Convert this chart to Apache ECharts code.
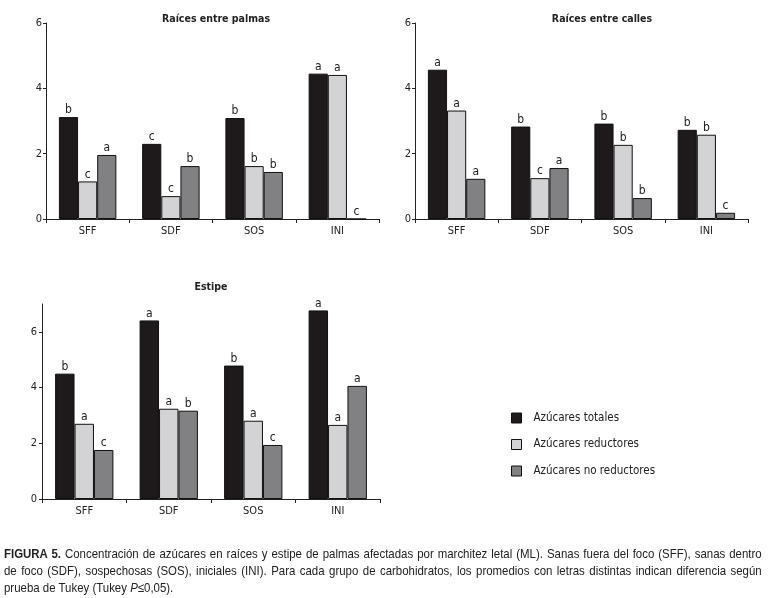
<!DOCTYPE html>
<html>
<head>
<meta charset="utf-8">
<script src="https://cdn.jsdelivr.net/npm/echarts@6/dist/echarts.min.js"></script>
<style>
  html, body { margin: 0; padding: 0; background: #fff; }
  #chart { position: absolute; left: 0; top: 0; width: 771px; height: 598px; }
  .cap { position: absolute; left: 4px; width: 861px; transform: scaleX(0.88); transform-origin: 0 0;
         font-family: 'Liberation Sans', Arial, sans-serif; font-size: 13px; line-height: 15px; color: #222; white-space: nowrap; }
  .just { text-align: justify; text-align-last: justify; white-space: normal; }
</style>
</head>
<body>
<div id="chart"></div>
<div class="cap just" style="top:546px;"><b>FIGURA 5.</b> Concentración de azúcares en raíces y estipe de palmas afectadas por marchitez letal (ML). Sanas fuera del foco (SFF), sanas dentro</div>
<div class="cap just" style="top:563px;">de foco (SDF), sospechosas (SOS), iniciales (INI). Para cada grupo de carbohidratos, los promedios con letras distintas indican diferencia según</div>
<div class="cap" style="top:580px;">prueba de Tukey (Tukey <i>P</i>≤0,05).</div>
<script>
const categories = ['SFF', 'SDF', 'SOS', 'INI'];
const seriesNames = ['Azúcares totales', 'Azúcares reductores', 'Azúcares no reductores'];
const panelTitles = ['Raíces entre palmas', 'Raíces entre calles', 'Estipe'];

const palmasTotales = [3.12, 2.30, 3.09, 4.45];
const palmasReductores = [1.15, 0.70, 1.62, 4.41];
const palmasNoReductores = [1.96, 1.62, 1.44, 0];
const palmasLetrasTotales = ['b', 'c', 'b', 'a'];
const palmasLetrasReductores = ['c', 'c', 'b', 'a'];
const palmasLetrasNoReductores = ['a', 'b', 'b', 'c'];

const callesTotales = [4.57, 2.83, 2.92, 2.73];
const callesReductores = [3.32, 1.25, 2.27, 2.58];
const callesNoReductores = [1.23, 1.56, 0.64, 0.19];
const callesLetrasTotales = ['a', 'b', 'b', 'b'];
const callesLetrasReductores = ['a', 'c', 'b', 'b'];
const callesLetrasNoReductores = ['a', 'a', 'b', 'c'];

const estipeTotales = [4.50, 6.41, 4.79, 6.77];
const estipeReductores = [2.70, 3.24, 2.81, 2.66];
const estipeNoReductores = [1.76, 3.17, 1.94, 4.06];
const estipeLetrasTotales = ['b', 'a', 'b', 'a'];
const estipeLetrasReductores = ['a', 'a', 'a', 'a'];
const estipeLetrasNoReductores = ['c', 'b', 'c', 'a'];

const yTicksTop = [0, 2, 4, 6];
const yTicksBottom = [0, 2, 4, 6];

const FONT = "'Liberation Sans Narrow', 'Arial Narrow', 'DejaVu Sans Condensed', sans-serif";
const colors = ['#1e1a1b', '#d3d3d5', '#818184'];
const textColor = '#222';

const panels = [
  { vals: [palmasTotales, palmasReductores, palmasNoReductores], letters: [palmasLetrasTotales, palmasLetrasReductores, palmasLetrasNoReductores], max: 6, ticks: yTicksTop,
    grid: { left: 46, top: 23, width: 333, height: 196 }, title: { left: 211, top: 9 }, labelMargin: 4 },
  { vals: [callesTotales, callesReductores, callesNoReductores], letters: [callesLetrasTotales, callesLetrasReductores, callesLetrasNoReductores], max: 6, ticks: yTicksTop,
    grid: { left: 415, top: 23, width: 333, height: 196 }, title: { left: 597, top: 9 }, labelMargin: 4 },
  { vals: [estipeTotales, estipeReductores, estipeNoReductores], letters: [estipeLetrasTotales, estipeLetrasReductores, estipeLetrasNoReductores], max: 7, ticks: yTicksBottom,
    grid: { left: 42, top: 304, width: 338, height: 195 }, title: { left: 206, top: 277 }, labelMargin: 5 }
];

const grids = [], xAxes = [], yAxes = [], series = [], titles = [];
panels.forEach((p, i) => {
  grids.push(Object.assign({ containLabel: false }, p.grid));
  titles.push({
    text: panelTitles[i], left: p.title.left, top: p.title.top, textAlign: 'center',
    textStyle: { fontFamily: FONT, fontSize: 10.5, fontWeight: 'bold', color: textColor }
  });
  xAxes.push({
    type: 'category', gridIndex: i, data: categories,
    axisLine: { lineStyle: { color: '#222', width: 1 } },
    axisTick: { show: true, length: 4, lineStyle: { color: '#222' } },
    axisLabel: { fontFamily: FONT, fontSize: 11, color: textColor, margin: 7 },
    splitLine: { show: false }
  });
  yAxes.push({
    type: 'value', gridIndex: i, min: 0, max: p.max, interval: 2,
    axisLine: { show: true, lineStyle: { color: '#222', width: 1 } },
    axisTick: { show: true, length: 3, lineStyle: { color: '#222' }, customValues: p.ticks },
    axisLabel: { fontFamily: FONT, fontSize: 11, color: textColor, margin: p.labelMargin, customValues: p.ticks },
    splitLine: { show: false }
  });
  p.vals.forEach((v, k) => {
    const letters = p.letters[k];
    series.push({
      type: 'bar', name: seriesNames[k], xAxisIndex: i, yAxisIndex: i, data: v,
      barGap: '0%', barCategoryGap: '31%',
      itemStyle: { color: colors[k], borderColor: '#111', borderWidth: 1 },
      label: {
        show: true, position: 'top', distance: 1,
        formatter: (params) => letters[params.dataIndex],
        fontFamily: FONT, fontSize: 12, color: textColor
      },
      emphasis: { disabled: true },
      animation: false
    });
  });
});

const chart = echarts.init(document.getElementById('chart'), null, { renderer: 'canvas' });
chart.setOption({
  backgroundColor: '#fff',
  animation: false,
  title: titles,
  grid: grids,
  xAxis: xAxes,
  yAxis: yAxes,
  legend: {
    orient: 'vertical', left: 511, top: 412, padding: 0,
    itemWidth: 10, itemHeight: 10, itemGap: 14.5,
    icon: 'rect',
    selectedMode: false,
    data: seriesNames,
    itemStyle: { borderColor: '#111', borderWidth: 1 },
    textStyle: { fontFamily: FONT, fontSize: 11.5, color: textColor, padding: [0, 0, 0, 7] }
  },
  series: series
});
</script>
</body>
</html>
